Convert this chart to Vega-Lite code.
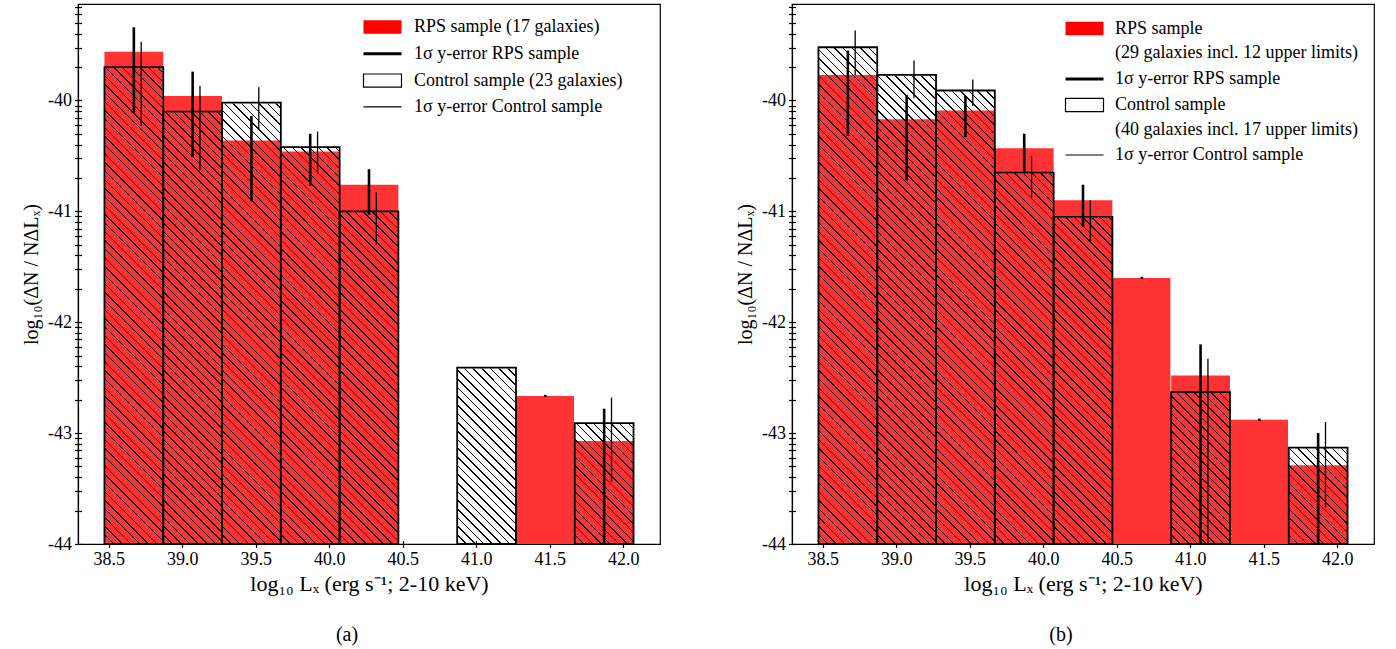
{
"$schema":"https://vega.github.io/schema/vega-lite/v6.json",
"padding":{"left":20,"top":3,"right":5,"bottom":0},
"spacing":132,
"bounds":"flush",
"resolve":{"scale":{"shape":"independent","fill":"independent","stroke":"independent","strokeWidth":"independent"},"legend":{"shape":"independent","fill":"independent","stroke":"independent","strokeWidth":"independent"}},
"datasets":{
"barsA":[
{"lo":38.47,"hi":38.87,"rps":-39.56,"ctrl":-39.70},
{"lo":38.87,"hi":39.27,"rps":-39.96,"ctrl":-40.10},
{"lo":39.27,"hi":39.67,"rps":-40.36,"ctrl":-40.02},
{"lo":39.67,"hi":40.07,"rps":-40.46,"ctrl":-40.42},
{"lo":40.07,"hi":40.47,"rps":-40.76,"ctrl":-41.00},
{"lo":40.87,"hi":41.27,"rps":null,"ctrl":-42.41},
{"lo":41.27,"hi":41.67,"rps":-42.665,"ctrl":null},
{"lo":41.67,"hi":42.07,"rps":-43.07,"ctrl":-42.91}
],
"errA":[
{"x":38.67,"lo":-40.11,"hi":-39.34,"s":"R"},
{"x":39.07,"lo":-40.51,"hi":-39.74,"s":"R"},
{"x":39.47,"lo":-40.91,"hi":-40.14,"s":"R"},
{"x":39.87,"lo":-40.77,"hi":-40.30,"s":"R"},
{"x":40.27,"lo":-41.03,"hi":-40.62,"s":"R"},
{"x":41.47,"lo":-42.675,"hi":-42.655,"s":"R"},
{"x":41.87,"lo":-44.0,"hi":-42.78,"s":"R"},
{"x":38.72,"lo":-40.23,"hi":-39.47,"s":"C"},
{"x":39.12,"lo":-40.63,"hi":-39.87,"s":"C"},
{"x":39.52,"lo":-40.26,"hi":-39.88,"s":"C"},
{"x":39.92,"lo":-40.66,"hi":-40.28,"s":"C"},
{"x":40.32,"lo":-41.30,"hi":-40.83,"s":"C"},
{"x":41.92,"lo":-43.44,"hi":-42.68,"s":"C"}
],
"barsB":[
{"lo":38.47,"hi":38.87,"rps":-39.77,"ctrl":-39.52},
{"lo":38.87,"hi":39.27,"rps":-40.17,"ctrl":-39.77},
{"lo":39.27,"hi":39.67,"rps":-40.09,"ctrl":-39.91},
{"lo":39.67,"hi":40.07,"rps":-40.43,"ctrl":-40.65},
{"lo":40.07,"hi":40.47,"rps":-40.90,"ctrl":-41.05},
{"lo":40.47,"hi":40.87,"rps":-41.60,"ctrl":null},
{"lo":40.87,"hi":41.27,"rps":-42.48,"ctrl":-42.63},
{"lo":41.27,"hi":41.67,"rps":-42.88,"ctrl":null},
{"lo":41.67,"hi":42.07,"rps":-43.29,"ctrl":-43.13}
],
"errB":[
{"x":38.67,"lo":-40.32,"hi":-39.55,"s":"R"},
{"x":39.07,"lo":-40.72,"hi":-39.95,"s":"R"},
{"x":39.47,"lo":-40.33,"hi":-39.96,"s":"R"},
{"x":39.87,"lo":-40.65,"hi":-40.30,"s":"R"},
{"x":40.27,"lo":-41.14,"hi":-40.76,"s":"R"},
{"x":40.67,"lo":-41.61,"hi":-41.59,"s":"R"},
{"x":41.07,"lo":-44.0,"hi":-42.20,"s":"R"},
{"x":41.47,"lo":-42.89,"hi":-42.87,"s":"R"},
{"x":41.87,"lo":-44.0,"hi":-43.00,"s":"R"},
{"x":38.72,"lo":-39.77,"hi":-39.37,"s":"C"},
{"x":39.12,"lo":-39.98,"hi":-39.64,"s":"C"},
{"x":39.52,"lo":-40.05,"hi":-39.81,"s":"C"},
{"x":39.92,"lo":-40.88,"hi":-40.50,"s":"C"},
{"x":40.32,"lo":-41.28,"hi":-40.90,"s":"C"},
{"x":41.12,"lo":-44.0,"hi":-42.33,"s":"C"},
{"x":41.92,"lo":-43.67,"hi":-42.90,"s":"C"}
]
},
"hconcat":[
{
"width":582,"height":540,
"title":{"text":"(a)","orient":"bottom","anchor":"middle","frame":"group","dx":-22,"offset":30},
"layer":[
{"data":{"name":"barsA"},"transform":[{"filter":"isValid(datum.rps)"}],
"mark":{"type":"rect","fill":"#ff3333"},
"encoding":{
"x":{"field":"lo","type":"quantitative","scale":{"domain":[38.29,42.25],"nice":false,"zero":false},
"axis":{"orient":"bottom","values":[38.5,39,39.5,40,40.5,41,41.5,42],"format":".1f","tickSize":3.5,"labelPadding":3,"title":"log₁₀ Lₓ (erg s⁻¹; 2-10 keV)","titlePadding":5,"titleFontSize":22}},
"x2":{"field":"hi"},
"y":{"field":"rps","type":"quantitative","scale":{"domain":[-44,-39.13],"nice":false,"zero":false},
"axis":{"orient":"left","values":[-44,-43,-42,-41,-40],"labelExpr":"'' + datum.value","tickSize":3.5,"labelPadding":3,"title":"log₁₀(ΔN / NΔLₓ)","titlePadding":6}},
"y2":{"datum":-44}}},
{"data":{"name":"barsA"},"transform":[{"filter":"isValid(datum.ctrl)"}],
"mark":{"type":"rect","fill":{"gradient":"linear","x1":0,"y1":1,"x2":0.12837,"y2":-0.10158,"stops":[
{"offset":0,"color":"#000"},{"offset":0.0027,"color":"#000"},{"offset":0.0027,"color":"transparent"},{"offset":0.0154,"color":"transparent"},
{"offset":0.0154,"color":"#000"},{"offset":0.0181,"color":"#000"},{"offset":0.0181,"color":"transparent"},{"offset":0.0308,"color":"transparent"},
{"offset":0.0308,"color":"#000"},{"offset":0.0335,"color":"#000"},{"offset":0.0335,"color":"transparent"},{"offset":0.0462,"color":"transparent"},
{"offset":0.0462,"color":"#000"},{"offset":0.0489,"color":"#000"},{"offset":0.0489,"color":"transparent"},{"offset":0.0615,"color":"transparent"},
{"offset":0.0615,"color":"#000"},{"offset":0.0642,"color":"#000"},{"offset":0.0642,"color":"transparent"},{"offset":0.0769,"color":"transparent"},
{"offset":0.0769,"color":"#000"},{"offset":0.0796,"color":"#000"},{"offset":0.0796,"color":"transparent"},{"offset":0.0923,"color":"transparent"},
{"offset":0.0923,"color":"#000"},{"offset":0.095,"color":"#000"},{"offset":0.095,"color":"transparent"},{"offset":0.1077,"color":"transparent"},
{"offset":0.1077,"color":"#000"},{"offset":0.1104,"color":"#000"},{"offset":0.1104,"color":"transparent"},{"offset":0.1231,"color":"transparent"},
{"offset":0.1231,"color":"#000"},{"offset":0.1258,"color":"#000"},{"offset":0.1258,"color":"transparent"},{"offset":0.1385,"color":"transparent"},
{"offset":0.1385,"color":"#000"},{"offset":0.1412,"color":"#000"},{"offset":0.1412,"color":"transparent"},{"offset":0.1538,"color":"transparent"},
{"offset":0.1538,"color":"#000"},{"offset":0.1565,"color":"#000"},{"offset":0.1565,"color":"transparent"},{"offset":0.1692,"color":"transparent"},
{"offset":0.1692,"color":"#000"},{"offset":0.1719,"color":"#000"},{"offset":0.1719,"color":"transparent"},{"offset":0.1846,"color":"transparent"},
{"offset":0.1846,"color":"#000"},{"offset":0.1873,"color":"#000"},{"offset":0.1873,"color":"transparent"},{"offset":0.2,"color":"transparent"},
{"offset":0.2,"color":"#000"},{"offset":0.2027,"color":"#000"},{"offset":0.2027,"color":"transparent"},{"offset":0.2154,"color":"transparent"},
{"offset":0.2154,"color":"#000"},{"offset":0.2181,"color":"#000"},{"offset":0.2181,"color":"transparent"},{"offset":0.2308,"color":"transparent"},
{"offset":0.2308,"color":"#000"},{"offset":0.2335,"color":"#000"},{"offset":0.2335,"color":"transparent"},{"offset":0.2462,"color":"transparent"},
{"offset":0.2462,"color":"#000"},{"offset":0.2489,"color":"#000"},{"offset":0.2489,"color":"transparent"},{"offset":0.2615,"color":"transparent"},
{"offset":0.2615,"color":"#000"},{"offset":0.2642,"color":"#000"},{"offset":0.2642,"color":"transparent"},{"offset":0.2769,"color":"transparent"},
{"offset":0.2769,"color":"#000"},{"offset":0.2796,"color":"#000"},{"offset":0.2796,"color":"transparent"},{"offset":0.2923,"color":"transparent"},
{"offset":0.2923,"color":"#000"},{"offset":0.295,"color":"#000"},{"offset":0.295,"color":"transparent"},{"offset":0.3077,"color":"transparent"},
{"offset":0.3077,"color":"#000"},{"offset":0.3104,"color":"#000"},{"offset":0.3104,"color":"transparent"},{"offset":0.3231,"color":"transparent"},
{"offset":0.3231,"color":"#000"},{"offset":0.3258,"color":"#000"},{"offset":0.3258,"color":"transparent"},{"offset":0.3385,"color":"transparent"},
{"offset":0.3385,"color":"#000"},{"offset":0.3412,"color":"#000"},{"offset":0.3412,"color":"transparent"},{"offset":0.3538,"color":"transparent"},
{"offset":0.3538,"color":"#000"},{"offset":0.3565,"color":"#000"},{"offset":0.3565,"color":"transparent"},{"offset":0.3692,"color":"transparent"},
{"offset":0.3692,"color":"#000"},{"offset":0.3719,"color":"#000"},{"offset":0.3719,"color":"transparent"},{"offset":0.3846,"color":"transparent"},
{"offset":0.3846,"color":"#000"},{"offset":0.3873,"color":"#000"},{"offset":0.3873,"color":"transparent"},{"offset":0.4,"color":"transparent"},
{"offset":0.4,"color":"#000"},{"offset":0.4027,"color":"#000"},{"offset":0.4027,"color":"transparent"},{"offset":0.4154,"color":"transparent"},
{"offset":0.4154,"color":"#000"},{"offset":0.4181,"color":"#000"},{"offset":0.4181,"color":"transparent"},{"offset":0.4308,"color":"transparent"},
{"offset":0.4308,"color":"#000"},{"offset":0.4335,"color":"#000"},{"offset":0.4335,"color":"transparent"},{"offset":0.4462,"color":"transparent"},
{"offset":0.4462,"color":"#000"},{"offset":0.4489,"color":"#000"},{"offset":0.4489,"color":"transparent"},{"offset":0.4615,"color":"transparent"},
{"offset":0.4615,"color":"#000"},{"offset":0.4642,"color":"#000"},{"offset":0.4642,"color":"transparent"},{"offset":0.4769,"color":"transparent"},
{"offset":0.4769,"color":"#000"},{"offset":0.4796,"color":"#000"},{"offset":0.4796,"color":"transparent"},{"offset":0.4923,"color":"transparent"},
{"offset":0.4923,"color":"#000"},{"offset":0.495,"color":"#000"},{"offset":0.495,"color":"transparent"},{"offset":0.5077,"color":"transparent"},
{"offset":0.5077,"color":"#000"},{"offset":0.5104,"color":"#000"},{"offset":0.5104,"color":"transparent"},{"offset":0.5231,"color":"transparent"},
{"offset":0.5231,"color":"#000"},{"offset":0.5258,"color":"#000"},{"offset":0.5258,"color":"transparent"},{"offset":0.5385,"color":"transparent"},
{"offset":0.5385,"color":"#000"},{"offset":0.5412,"color":"#000"},{"offset":0.5412,"color":"transparent"},{"offset":0.5538,"color":"transparent"},
{"offset":0.5538,"color":"#000"},{"offset":0.5565,"color":"#000"},{"offset":0.5565,"color":"transparent"},{"offset":0.5692,"color":"transparent"},
{"offset":0.5692,"color":"#000"},{"offset":0.5719,"color":"#000"},{"offset":0.5719,"color":"transparent"},{"offset":0.5846,"color":"transparent"},
{"offset":0.5846,"color":"#000"},{"offset":0.5873,"color":"#000"},{"offset":0.5873,"color":"transparent"},{"offset":0.6,"color":"transparent"},
{"offset":0.6,"color":"#000"},{"offset":0.6027,"color":"#000"},{"offset":0.6027,"color":"transparent"},{"offset":0.6154,"color":"transparent"},
{"offset":0.6154,"color":"#000"},{"offset":0.6181,"color":"#000"},{"offset":0.6181,"color":"transparent"},{"offset":0.6308,"color":"transparent"},
{"offset":0.6308,"color":"#000"},{"offset":0.6335,"color":"#000"},{"offset":0.6335,"color":"transparent"},{"offset":0.6462,"color":"transparent"},
{"offset":0.6462,"color":"#000"},{"offset":0.6489,"color":"#000"},{"offset":0.6489,"color":"transparent"},{"offset":0.6615,"color":"transparent"},
{"offset":0.6615,"color":"#000"},{"offset":0.6642,"color":"#000"},{"offset":0.6642,"color":"transparent"},{"offset":0.6769,"color":"transparent"},
{"offset":0.6769,"color":"#000"},{"offset":0.6796,"color":"#000"},{"offset":0.6796,"color":"transparent"},{"offset":0.6923,"color":"transparent"},
{"offset":0.6923,"color":"#000"},{"offset":0.695,"color":"#000"},{"offset":0.695,"color":"transparent"},{"offset":0.7077,"color":"transparent"},
{"offset":0.7077,"color":"#000"},{"offset":0.7104,"color":"#000"},{"offset":0.7104,"color":"transparent"},{"offset":0.7231,"color":"transparent"},
{"offset":0.7231,"color":"#000"},{"offset":0.7258,"color":"#000"},{"offset":0.7258,"color":"transparent"},{"offset":0.7385,"color":"transparent"},
{"offset":0.7385,"color":"#000"},{"offset":0.7412,"color":"#000"},{"offset":0.7412,"color":"transparent"},{"offset":0.7538,"color":"transparent"},
{"offset":0.7538,"color":"#000"},{"offset":0.7565,"color":"#000"},{"offset":0.7565,"color":"transparent"},{"offset":0.7692,"color":"transparent"},
{"offset":0.7692,"color":"#000"},{"offset":0.7719,"color":"#000"},{"offset":0.7719,"color":"transparent"},{"offset":0.7846,"color":"transparent"},
{"offset":0.7846,"color":"#000"},{"offset":0.7873,"color":"#000"},{"offset":0.7873,"color":"transparent"},{"offset":0.8,"color":"transparent"},
{"offset":0.8,"color":"#000"},{"offset":0.8027,"color":"#000"},{"offset":0.8027,"color":"transparent"},{"offset":0.8154,"color":"transparent"},
{"offset":0.8154,"color":"#000"},{"offset":0.8181,"color":"#000"},{"offset":0.8181,"color":"transparent"},{"offset":0.8308,"color":"transparent"},
{"offset":0.8308,"color":"#000"},{"offset":0.8335,"color":"#000"},{"offset":0.8335,"color":"transparent"},{"offset":0.8462,"color":"transparent"},
{"offset":0.8462,"color":"#000"},{"offset":0.8489,"color":"#000"},{"offset":0.8489,"color":"transparent"},{"offset":0.8615,"color":"transparent"},
{"offset":0.8615,"color":"#000"},{"offset":0.8642,"color":"#000"},{"offset":0.8642,"color":"transparent"},{"offset":0.8769,"color":"transparent"},
{"offset":0.8769,"color":"#000"},{"offset":0.8796,"color":"#000"},{"offset":0.8796,"color":"transparent"},{"offset":0.8923,"color":"transparent"},
{"offset":0.8923,"color":"#000"},{"offset":0.895,"color":"#000"},{"offset":0.895,"color":"transparent"},{"offset":0.9077,"color":"transparent"},
{"offset":0.9077,"color":"#000"},{"offset":0.9104,"color":"#000"},{"offset":0.9104,"color":"transparent"},{"offset":0.9231,"color":"transparent"},
{"offset":0.9231,"color":"#000"},{"offset":0.9258,"color":"#000"},{"offset":0.9258,"color":"transparent"},{"offset":0.9385,"color":"transparent"},
{"offset":0.9385,"color":"#000"},{"offset":0.9412,"color":"#000"},{"offset":0.9412,"color":"transparent"},{"offset":0.9538,"color":"transparent"},
{"offset":0.9538,"color":"#000"},{"offset":0.9565,"color":"#000"},{"offset":0.9565,"color":"transparent"},{"offset":0.9692,"color":"transparent"},
{"offset":0.9692,"color":"#000"},{"offset":0.9719,"color":"#000"},{"offset":0.9719,"color":"transparent"},{"offset":0.9846,"color":"transparent"},
{"offset":0.9846,"color":"#000"},{"offset":0.9873,"color":"#000"},{"offset":0.9873,"color":"transparent"},{"offset":1,"color":"transparent"}
]}},
"encoding":{"x":{"field":"lo","type":"quantitative","axis":null},"x2":{"field":"hi"},"y":{"datum":-44,"type":"quantitative","axis":null},"y2":{"datum":-39.45}}},
{"data":{"name":"barsA"},"transform":[{"filter":"isValid(datum.ctrl)"}],
"mark":{"type":"rect","fill":"white","stroke":"white","strokeWidth":1.5},
"encoding":{"x":{"field":"lo","type":"quantitative","axis":null},"x2":{"field":"hi"},"y":{"field":"ctrl","type":"quantitative","axis":null},"y2":{"datum":-39.45}}},
{"data":{"name":"barsA"},"transform":[{"filter":"isValid(datum.ctrl) && isValid(datum.rps) && datum.rps > datum.ctrl"}],
"mark":{"type":"rect","fill":"#ff3333"},
"encoding":{"x":{"field":"lo","type":"quantitative","axis":null},"x2":{"field":"hi"},"y":{"field":"ctrl","type":"quantitative","axis":null},"y2":{"field":"rps"}}},
{"data":{"name":"barsA"},"transform":[{"filter":"isValid(datum.ctrl)"}],
"mark":{"type":"rect","fill":"white","fillOpacity":0,"stroke":"black","strokeWidth":1.8},
"encoding":{
"x":{"field":"lo","type":"quantitative","axis":{"orient":"bottom","values":[38.5,39,39.5,40,40.5,41,41.5,42],"tickSize":-3.5,"labels":false,"domain":false,"title":null}},
"x2":{"field":"hi"},
"y":{"field":"ctrl","type":"quantitative","axis":{"orient":"left","values":[-44,-43.699,-43.523,-43.398,-43.301,-43.222,-43.155,-43.097,-43.046,-43,-42.699,-42.523,-42.398,-42.301,-42.222,-42.155,-42.097,-42.046,-42,-41.699,-41.523,-41.398,-41.301,-41.222,-41.155,-41.097,-41.046,-41,-40.699,-40.523,-40.398,-40.301,-40.222,-40.155,-40.097,-40.046,-40,-39.699,-39.523,-39.398,-39.301,-39.222,-39.155],"tickSize":-3.5,"labels":false,"domain":false,"title":null}},
"y2":{"datum":-44}}},
{"data":{"name":"errA"},"transform":[{"filter":"datum.s == 'R'"}],
"mark":{"type":"rule","color":"black","strokeWidth":2.6},
"encoding":{"x":{"field":"x","type":"quantitative","axis":null},"y":{"field":"lo","type":"quantitative","axis":{"orient":"left","values":[-43.699,-43.523,-43.398,-43.301,-43.222,-43.155,-43.097,-43.046,-42.699,-42.523,-42.398,-42.301,-42.222,-42.155,-42.097,-42.046,-41.699,-41.523,-41.398,-41.301,-41.222,-41.155,-41.097,-41.046,-40.699,-40.523,-40.398,-40.301,-40.222,-40.155,-40.097,-40.046,-39.699,-39.523,-39.398,-39.301,-39.222,-39.155],"tickSize":3.5,"labels":false,"domain":false,"title":null}},"y2":{"field":"hi"}}},
{"data":{"name":"errA"},"transform":[{"filter":"datum.s == 'C'"}],
"mark":{"type":"rule","color":"black","strokeWidth":1.3},
"encoding":{"x":{"field":"x","type":"quantitative","axis":null},"y":{"field":"lo","type":"quantitative","axis":null},"y2":{"field":"hi"}}},
{"data":{"name":"errA"},"transform":[{"filter":"false"}],
"mark":{"type":"point","size":400,"opacity":1},
"encoding":{
"shape":{"field":"leg","type":"nominal","scale":{"domain":["RPS sample (17 galaxies)","1σ y-error RPS sample","Control sample (23 galaxies)","1σ y-error Control sample"],"range":["M-1.9,-0.68H1.9V0.68H-1.9Z","M-1.9,0H1.9","M-1.9,-0.66H1.9V0.66H-1.9Z","M-1.9,0H1.9"]},"legend":{"orient":"none","legendX":293,"legendY":13,"rowPadding":6.3,"labelOffset":20,"title":null}},
"fill":{"field":"leg","type":"nominal","scale":{"domain":["RPS sample (17 galaxies)","1σ y-error RPS sample","Control sample (23 galaxies)","1σ y-error Control sample"],"range":["#ff0000","transparent","white","transparent"]},"legend":{"orient":"none","legendX":293,"legendY":13,"rowPadding":6.3,"labelOffset":20,"title":null}},
"stroke":{"field":"leg","type":"nominal","scale":{"domain":["RPS sample (17 galaxies)","1σ y-error RPS sample","Control sample (23 galaxies)","1σ y-error Control sample"],"range":["transparent","black","black","black"]},"legend":{"orient":"none","legendX":293,"legendY":13,"rowPadding":6.3,"labelOffset":20,"title":null}},
"strokeWidth":{"field":"leg","type":"nominal","scale":{"type":"ordinal","domain":["RPS sample (17 galaxies)","1σ y-error RPS sample","Control sample (23 galaxies)","1σ y-error Control sample"],"range":[0,3,1.2,1.2]},"legend":{"orient":"none","legendX":293,"legendY":13,"rowPadding":6.3,"labelOffset":20,"title":null}}
}}
],
"resolve":{"axis":{"x":"independent","y":"independent"}}
},
{
"width":582,"height":540,
"title":{"text":"(b)","orient":"bottom","anchor":"middle","frame":"group","dx":-22,"offset":30},
"layer":[
{"data":{"name":"barsB"},"transform":[{"filter":"isValid(datum.rps)"}],
"mark":{"type":"rect","fill":"#ff3333"},
"encoding":{
"x":{"field":"lo","type":"quantitative","scale":{"domain":[38.29,42.25],"nice":false,"zero":false},
"axis":{"orient":"bottom","values":[38.5,39,39.5,40,40.5,41,41.5,42],"format":".1f","tickSize":3.5,"labelPadding":3,"title":"log₁₀ Lₓ (erg s⁻¹; 2-10 keV)","titlePadding":5,"titleFontSize":22}},
"x2":{"field":"hi"},
"y":{"field":"rps","type":"quantitative","scale":{"domain":[-44,-39.13],"nice":false,"zero":false},
"axis":{"orient":"left","values":[-44,-43,-42,-41,-40],"labelExpr":"'' + datum.value","tickSize":3.5,"labelPadding":3,"title":"log₁₀(ΔN / NΔLₓ)","titlePadding":6}},
"y2":{"datum":-44}}},
{"data":{"name":"barsB"},"transform":[{"filter":"isValid(datum.ctrl)"}],
"mark":{"type":"rect","fill":{"gradient":"linear","x1":0,"y1":1,"x2":0.12837,"y2":-0.10158,"stops":[
{"offset":0,"color":"#000"},{"offset":0.0027,"color":"#000"},{"offset":0.0027,"color":"transparent"},{"offset":0.0154,"color":"transparent"},
{"offset":0.0154,"color":"#000"},{"offset":0.0181,"color":"#000"},{"offset":0.0181,"color":"transparent"},{"offset":0.0308,"color":"transparent"},
{"offset":0.0308,"color":"#000"},{"offset":0.0335,"color":"#000"},{"offset":0.0335,"color":"transparent"},{"offset":0.0462,"color":"transparent"},
{"offset":0.0462,"color":"#000"},{"offset":0.0489,"color":"#000"},{"offset":0.0489,"color":"transparent"},{"offset":0.0615,"color":"transparent"},
{"offset":0.0615,"color":"#000"},{"offset":0.0642,"color":"#000"},{"offset":0.0642,"color":"transparent"},{"offset":0.0769,"color":"transparent"},
{"offset":0.0769,"color":"#000"},{"offset":0.0796,"color":"#000"},{"offset":0.0796,"color":"transparent"},{"offset":0.0923,"color":"transparent"},
{"offset":0.0923,"color":"#000"},{"offset":0.095,"color":"#000"},{"offset":0.095,"color":"transparent"},{"offset":0.1077,"color":"transparent"},
{"offset":0.1077,"color":"#000"},{"offset":0.1104,"color":"#000"},{"offset":0.1104,"color":"transparent"},{"offset":0.1231,"color":"transparent"},
{"offset":0.1231,"color":"#000"},{"offset":0.1258,"color":"#000"},{"offset":0.1258,"color":"transparent"},{"offset":0.1385,"color":"transparent"},
{"offset":0.1385,"color":"#000"},{"offset":0.1412,"color":"#000"},{"offset":0.1412,"color":"transparent"},{"offset":0.1538,"color":"transparent"},
{"offset":0.1538,"color":"#000"},{"offset":0.1565,"color":"#000"},{"offset":0.1565,"color":"transparent"},{"offset":0.1692,"color":"transparent"},
{"offset":0.1692,"color":"#000"},{"offset":0.1719,"color":"#000"},{"offset":0.1719,"color":"transparent"},{"offset":0.1846,"color":"transparent"},
{"offset":0.1846,"color":"#000"},{"offset":0.1873,"color":"#000"},{"offset":0.1873,"color":"transparent"},{"offset":0.2,"color":"transparent"},
{"offset":0.2,"color":"#000"},{"offset":0.2027,"color":"#000"},{"offset":0.2027,"color":"transparent"},{"offset":0.2154,"color":"transparent"},
{"offset":0.2154,"color":"#000"},{"offset":0.2181,"color":"#000"},{"offset":0.2181,"color":"transparent"},{"offset":0.2308,"color":"transparent"},
{"offset":0.2308,"color":"#000"},{"offset":0.2335,"color":"#000"},{"offset":0.2335,"color":"transparent"},{"offset":0.2462,"color":"transparent"},
{"offset":0.2462,"color":"#000"},{"offset":0.2489,"color":"#000"},{"offset":0.2489,"color":"transparent"},{"offset":0.2615,"color":"transparent"},
{"offset":0.2615,"color":"#000"},{"offset":0.2642,"color":"#000"},{"offset":0.2642,"color":"transparent"},{"offset":0.2769,"color":"transparent"},
{"offset":0.2769,"color":"#000"},{"offset":0.2796,"color":"#000"},{"offset":0.2796,"color":"transparent"},{"offset":0.2923,"color":"transparent"},
{"offset":0.2923,"color":"#000"},{"offset":0.295,"color":"#000"},{"offset":0.295,"color":"transparent"},{"offset":0.3077,"color":"transparent"},
{"offset":0.3077,"color":"#000"},{"offset":0.3104,"color":"#000"},{"offset":0.3104,"color":"transparent"},{"offset":0.3231,"color":"transparent"},
{"offset":0.3231,"color":"#000"},{"offset":0.3258,"color":"#000"},{"offset":0.3258,"color":"transparent"},{"offset":0.3385,"color":"transparent"},
{"offset":0.3385,"color":"#000"},{"offset":0.3412,"color":"#000"},{"offset":0.3412,"color":"transparent"},{"offset":0.3538,"color":"transparent"},
{"offset":0.3538,"color":"#000"},{"offset":0.3565,"color":"#000"},{"offset":0.3565,"color":"transparent"},{"offset":0.3692,"color":"transparent"},
{"offset":0.3692,"color":"#000"},{"offset":0.3719,"color":"#000"},{"offset":0.3719,"color":"transparent"},{"offset":0.3846,"color":"transparent"},
{"offset":0.3846,"color":"#000"},{"offset":0.3873,"color":"#000"},{"offset":0.3873,"color":"transparent"},{"offset":0.4,"color":"transparent"},
{"offset":0.4,"color":"#000"},{"offset":0.4027,"color":"#000"},{"offset":0.4027,"color":"transparent"},{"offset":0.4154,"color":"transparent"},
{"offset":0.4154,"color":"#000"},{"offset":0.4181,"color":"#000"},{"offset":0.4181,"color":"transparent"},{"offset":0.4308,"color":"transparent"},
{"offset":0.4308,"color":"#000"},{"offset":0.4335,"color":"#000"},{"offset":0.4335,"color":"transparent"},{"offset":0.4462,"color":"transparent"},
{"offset":0.4462,"color":"#000"},{"offset":0.4489,"color":"#000"},{"offset":0.4489,"color":"transparent"},{"offset":0.4615,"color":"transparent"},
{"offset":0.4615,"color":"#000"},{"offset":0.4642,"color":"#000"},{"offset":0.4642,"color":"transparent"},{"offset":0.4769,"color":"transparent"},
{"offset":0.4769,"color":"#000"},{"offset":0.4796,"color":"#000"},{"offset":0.4796,"color":"transparent"},{"offset":0.4923,"color":"transparent"},
{"offset":0.4923,"color":"#000"},{"offset":0.495,"color":"#000"},{"offset":0.495,"color":"transparent"},{"offset":0.5077,"color":"transparent"},
{"offset":0.5077,"color":"#000"},{"offset":0.5104,"color":"#000"},{"offset":0.5104,"color":"transparent"},{"offset":0.5231,"color":"transparent"},
{"offset":0.5231,"color":"#000"},{"offset":0.5258,"color":"#000"},{"offset":0.5258,"color":"transparent"},{"offset":0.5385,"color":"transparent"},
{"offset":0.5385,"color":"#000"},{"offset":0.5412,"color":"#000"},{"offset":0.5412,"color":"transparent"},{"offset":0.5538,"color":"transparent"},
{"offset":0.5538,"color":"#000"},{"offset":0.5565,"color":"#000"},{"offset":0.5565,"color":"transparent"},{"offset":0.5692,"color":"transparent"},
{"offset":0.5692,"color":"#000"},{"offset":0.5719,"color":"#000"},{"offset":0.5719,"color":"transparent"},{"offset":0.5846,"color":"transparent"},
{"offset":0.5846,"color":"#000"},{"offset":0.5873,"color":"#000"},{"offset":0.5873,"color":"transparent"},{"offset":0.6,"color":"transparent"},
{"offset":0.6,"color":"#000"},{"offset":0.6027,"color":"#000"},{"offset":0.6027,"color":"transparent"},{"offset":0.6154,"color":"transparent"},
{"offset":0.6154,"color":"#000"},{"offset":0.6181,"color":"#000"},{"offset":0.6181,"color":"transparent"},{"offset":0.6308,"color":"transparent"},
{"offset":0.6308,"color":"#000"},{"offset":0.6335,"color":"#000"},{"offset":0.6335,"color":"transparent"},{"offset":0.6462,"color":"transparent"},
{"offset":0.6462,"color":"#000"},{"offset":0.6489,"color":"#000"},{"offset":0.6489,"color":"transparent"},{"offset":0.6615,"color":"transparent"},
{"offset":0.6615,"color":"#000"},{"offset":0.6642,"color":"#000"},{"offset":0.6642,"color":"transparent"},{"offset":0.6769,"color":"transparent"},
{"offset":0.6769,"color":"#000"},{"offset":0.6796,"color":"#000"},{"offset":0.6796,"color":"transparent"},{"offset":0.6923,"color":"transparent"},
{"offset":0.6923,"color":"#000"},{"offset":0.695,"color":"#000"},{"offset":0.695,"color":"transparent"},{"offset":0.7077,"color":"transparent"},
{"offset":0.7077,"color":"#000"},{"offset":0.7104,"color":"#000"},{"offset":0.7104,"color":"transparent"},{"offset":0.7231,"color":"transparent"},
{"offset":0.7231,"color":"#000"},{"offset":0.7258,"color":"#000"},{"offset":0.7258,"color":"transparent"},{"offset":0.7385,"color":"transparent"},
{"offset":0.7385,"color":"#000"},{"offset":0.7412,"color":"#000"},{"offset":0.7412,"color":"transparent"},{"offset":0.7538,"color":"transparent"},
{"offset":0.7538,"color":"#000"},{"offset":0.7565,"color":"#000"},{"offset":0.7565,"color":"transparent"},{"offset":0.7692,"color":"transparent"},
{"offset":0.7692,"color":"#000"},{"offset":0.7719,"color":"#000"},{"offset":0.7719,"color":"transparent"},{"offset":0.7846,"color":"transparent"},
{"offset":0.7846,"color":"#000"},{"offset":0.7873,"color":"#000"},{"offset":0.7873,"color":"transparent"},{"offset":0.8,"color":"transparent"},
{"offset":0.8,"color":"#000"},{"offset":0.8027,"color":"#000"},{"offset":0.8027,"color":"transparent"},{"offset":0.8154,"color":"transparent"},
{"offset":0.8154,"color":"#000"},{"offset":0.8181,"color":"#000"},{"offset":0.8181,"color":"transparent"},{"offset":0.8308,"color":"transparent"},
{"offset":0.8308,"color":"#000"},{"offset":0.8335,"color":"#000"},{"offset":0.8335,"color":"transparent"},{"offset":0.8462,"color":"transparent"},
{"offset":0.8462,"color":"#000"},{"offset":0.8489,"color":"#000"},{"offset":0.8489,"color":"transparent"},{"offset":0.8615,"color":"transparent"},
{"offset":0.8615,"color":"#000"},{"offset":0.8642,"color":"#000"},{"offset":0.8642,"color":"transparent"},{"offset":0.8769,"color":"transparent"},
{"offset":0.8769,"color":"#000"},{"offset":0.8796,"color":"#000"},{"offset":0.8796,"color":"transparent"},{"offset":0.8923,"color":"transparent"},
{"offset":0.8923,"color":"#000"},{"offset":0.895,"color":"#000"},{"offset":0.895,"color":"transparent"},{"offset":0.9077,"color":"transparent"},
{"offset":0.9077,"color":"#000"},{"offset":0.9104,"color":"#000"},{"offset":0.9104,"color":"transparent"},{"offset":0.9231,"color":"transparent"},
{"offset":0.9231,"color":"#000"},{"offset":0.9258,"color":"#000"},{"offset":0.9258,"color":"transparent"},{"offset":0.9385,"color":"transparent"},
{"offset":0.9385,"color":"#000"},{"offset":0.9412,"color":"#000"},{"offset":0.9412,"color":"transparent"},{"offset":0.9538,"color":"transparent"},
{"offset":0.9538,"color":"#000"},{"offset":0.9565,"color":"#000"},{"offset":0.9565,"color":"transparent"},{"offset":0.9692,"color":"transparent"},
{"offset":0.9692,"color":"#000"},{"offset":0.9719,"color":"#000"},{"offset":0.9719,"color":"transparent"},{"offset":0.9846,"color":"transparent"},
{"offset":0.9846,"color":"#000"},{"offset":0.9873,"color":"#000"},{"offset":0.9873,"color":"transparent"},{"offset":1,"color":"transparent"}
]}},
"encoding":{"x":{"field":"lo","type":"quantitative","axis":null},"x2":{"field":"hi"},"y":{"datum":-44,"type":"quantitative","axis":null},"y2":{"datum":-39.45}}},
{"data":{"name":"barsB"},"transform":[{"filter":"isValid(datum.ctrl)"}],
"mark":{"type":"rect","fill":"white","stroke":"white","strokeWidth":1.5},
"encoding":{"x":{"field":"lo","type":"quantitative","axis":null},"x2":{"field":"hi"},"y":{"field":"ctrl","type":"quantitative","axis":null},"y2":{"datum":-39.45}}},
{"data":{"name":"barsB"},"transform":[{"filter":"isValid(datum.ctrl) && isValid(datum.rps) && datum.rps > datum.ctrl"}],
"mark":{"type":"rect","fill":"#ff3333"},
"encoding":{"x":{"field":"lo","type":"quantitative","axis":null},"x2":{"field":"hi"},"y":{"field":"ctrl","type":"quantitative","axis":null},"y2":{"field":"rps"}}},
{"data":{"name":"barsB"},"transform":[{"filter":"isValid(datum.ctrl)"}],
"mark":{"type":"rect","fill":"white","fillOpacity":0,"stroke":"black","strokeWidth":1.8},
"encoding":{
"x":{"field":"lo","type":"quantitative","axis":{"orient":"bottom","values":[38.5,39,39.5,40,40.5,41,41.5,42],"tickSize":-3.5,"labels":false,"domain":false,"title":null}},
"x2":{"field":"hi"},
"y":{"field":"ctrl","type":"quantitative","axis":{"orient":"left","values":[-44,-43.699,-43.523,-43.398,-43.301,-43.222,-43.155,-43.097,-43.046,-43,-42.699,-42.523,-42.398,-42.301,-42.222,-42.155,-42.097,-42.046,-42,-41.699,-41.523,-41.398,-41.301,-41.222,-41.155,-41.097,-41.046,-41,-40.699,-40.523,-40.398,-40.301,-40.222,-40.155,-40.097,-40.046,-40,-39.699,-39.523,-39.398,-39.301,-39.222,-39.155],"tickSize":-3.5,"labels":false,"domain":false,"title":null}},
"y2":{"datum":-44}}},
{"data":{"name":"errB"},"transform":[{"filter":"datum.s == 'R'"}],
"mark":{"type":"rule","color":"black","strokeWidth":2.6},
"encoding":{"x":{"field":"x","type":"quantitative","axis":null},"y":{"field":"lo","type":"quantitative","axis":{"orient":"left","values":[-43.699,-43.523,-43.398,-43.301,-43.222,-43.155,-43.097,-43.046,-42.699,-42.523,-42.398,-42.301,-42.222,-42.155,-42.097,-42.046,-41.699,-41.523,-41.398,-41.301,-41.222,-41.155,-41.097,-41.046,-40.699,-40.523,-40.398,-40.301,-40.222,-40.155,-40.097,-40.046,-39.699,-39.523,-39.398,-39.301,-39.222,-39.155],"tickSize":3.5,"labels":false,"domain":false,"title":null}},"y2":{"field":"hi"}}},
{"data":{"name":"errB"},"transform":[{"filter":"datum.s == 'C'"}],
"mark":{"type":"rule","color":"black","strokeWidth":1.3},
"encoding":{"x":{"field":"x","type":"quantitative","axis":null},"y":{"field":"lo","type":"quantitative","axis":null},"y2":{"field":"hi"}}},
{"data":{"name":"errB"},"transform":[{"filter":"false"}],
"mark":{"type":"point","size":400,"opacity":1},
"encoding":{
"shape":{"field":"leg","type":"nominal","scale":{"domain":["RPS sample","(29 galaxies incl. 12 upper limits)","1σ y-error RPS sample","Control sample","(40 galaxies incl. 17 upper limits)","1σ y-error Control sample"],"range":["M-1.9,-0.68H1.9V0.68H-1.9Z","M-1.9,0H1.9","M-1.9,0H1.9","M-1.9,-0.66H1.9V0.66H-1.9Z","M-1.9,0H1.9","M-1.9,0H1.9"]},"legend":{"orient":"none","legendX":281,"legendY":14.5,"rowPadding":5.5,"labelOffset":19,"title":null}},
"fill":{"field":"leg","type":"nominal","scale":{"domain":["RPS sample","(29 galaxies incl. 12 upper limits)","1σ y-error RPS sample","Control sample","(40 galaxies incl. 17 upper limits)","1σ y-error Control sample"],"range":["#ff0000","transparent","transparent","white","transparent","transparent"]},"legend":{"orient":"none","legendX":281,"legendY":14.5,"rowPadding":5.5,"labelOffset":19,"title":null}},
"stroke":{"field":"leg","type":"nominal","scale":{"domain":["RPS sample","(29 galaxies incl. 12 upper limits)","1σ y-error RPS sample","Control sample","(40 galaxies incl. 17 upper limits)","1σ y-error Control sample"],"range":["transparent","transparent","black","black","transparent","black"]},"legend":{"orient":"none","legendX":281,"legendY":14.5,"rowPadding":5.5,"labelOffset":19,"title":null}},
"strokeWidth":{"field":"leg","type":"nominal","scale":{"type":"ordinal","domain":["RPS sample","(29 galaxies incl. 12 upper limits)","1σ y-error RPS sample","Control sample","(40 galaxies incl. 17 upper limits)","1σ y-error Control sample"],"range":[0,0,3,1.2,0,1.2]},"legend":{"orient":"none","legendX":281,"legendY":14.5,"rowPadding":5.5,"labelOffset":19,"title":null}}
}}
],
"resolve":{"axis":{"x":"independent","y":"independent"}}
}
],
"config":{
"view":{"stroke":"black","strokeWidth":1.2},
"axis":{"grid":false,"zindex":1,"domainColor":"black","domainWidth":1.2,"tickColor":"black","tickWidth":1.2,"labelFont":"Liberation Serif","labelFontSize":18,"labelColor":"black","labelOverlap":false,"labelFlush":false,"titleFont":"Liberation Serif","titleFontSize":20,"titleFontWeight":"normal","titleColor":"black"},
"legend":{"labelFont":"Liberation Serif","labelFontSize":18,"labelColor":"black","labelLimit":600,"symbolSize":400,"padding":0},
"title":{"font":"Liberation Serif","fontSize":20,"fontWeight":"normal","color":"black"}
}
}
